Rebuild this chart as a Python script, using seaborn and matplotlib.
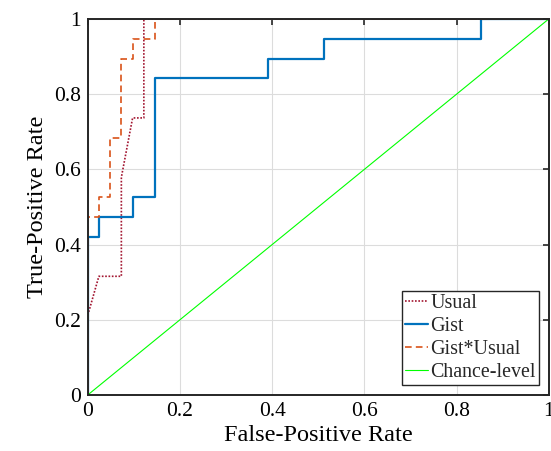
import matplotlib
matplotlib.use("Agg")
import matplotlib.pyplot as plt
import seaborn as sns
import pandas as pd

# ROC points (FPR in steps of 1/41, TPR in steps of 1/19)
usual_fpr = [0, 0, 1/41, 3/41, 3/41, 4/41, 5/41, 5/41, 1]
usual_tpr = [0, 4/19, 6/19, 6/19, 11/19, 14/19, 14/19, 1, 1]

gist_fpr = [0, 0, 1/41, 1/41, 4/41, 4/41, 6/41, 6/41, 16/41, 16/41, 21/41, 21/41, 35/41, 35/41, 1]
gist_tpr = [0, 8/19, 8/19, 9/19, 9/19, 10/19, 10/19, 16/19, 16/19, 17/19, 17/19, 18/19, 18/19, 1, 1]

gu_fpr = [0, 0, 1/41, 1/41, 2/41, 2/41, 3/41, 3/41, 4/41, 4/41, 6/41, 6/41, 1]
gu_tpr = [0, 9/19, 9/19, 10/19, 10/19, 13/19, 13/19, 17/19, 17/19, 18/19, 18/19, 1, 1]

chance = [0, 1]

sns.set_theme(style="white")
plt.rcParams["font.family"] = ["Liberation Serif", "DejaVu Serif"]

fig = plt.figure(figsize=(5.51, 4.51), dpi=100)
ax = fig.add_axes([0.159, 0.124, 0.837, 0.834])

def curve(x, y, label, **kw):
    df = pd.DataFrame({"x": x, "y": y})
    sns.lineplot(data=df, x="x", y="y", sort=False, estimator=None, ax=ax, label=label, **kw)

curve(usual_fpr, usual_tpr, "Usual", color="#A2142F", linestyle=(0, (1, 1)), linewidth=1.2)
curve(gist_fpr, gist_tpr, "Gist", color="#0072BD", linewidth=1.6)
curve(gu_fpr, gu_tpr, "Gist*Usual", color="#D95319", linestyle=(0, (4, 2.5)), linewidth=1.2)
curve(chance, chance, "Chance-level", color="#00FF00", linewidth=0.8)

ax.set_xlim(0, 1)
ax.set_ylim(0, 1)
ticks = [0, 0.2, 0.4, 0.6, 0.8, 1]
ticklabels = ["0", "0.2", "0.4", "0.6", "0.8", "1"]
ax.set_xticks(ticks)
ax.set_xticklabels(ticklabels)
ax.set_yticks(ticks)
ax.set_yticklabels(ticklabels)
ax.grid(True, color="#dcdcdc", linewidth=0.8)
ax.tick_params(direction="in", length=4, width=1.2, top=True, right=True,
               labelsize=15.5, colors="#262626", labelcolor="black", pad=5)
for s in ax.spines.values():
    s.set_color("#262626")
    s.set_linewidth(1.4)

ax.set_xlabel("False-Positive Rate", fontsize=17.5, color="black", labelpad=3)
ax.set_ylabel("True-Positive Rate", fontsize=17.5, color="black", labelpad=4)

leg = ax.legend(loc="lower right", fontsize=14.4, frameon=True, fancybox=False,
                edgecolor="#262626", handlelength=1.15, handletextpad=0.1,
                borderpad=0.15, labelspacing=0.2, borderaxespad=0.5)
leg.get_frame().set_linewidth(1.0)
leg.get_frame().set_alpha(1)

fig.savefig("out.png", dpi=100)
